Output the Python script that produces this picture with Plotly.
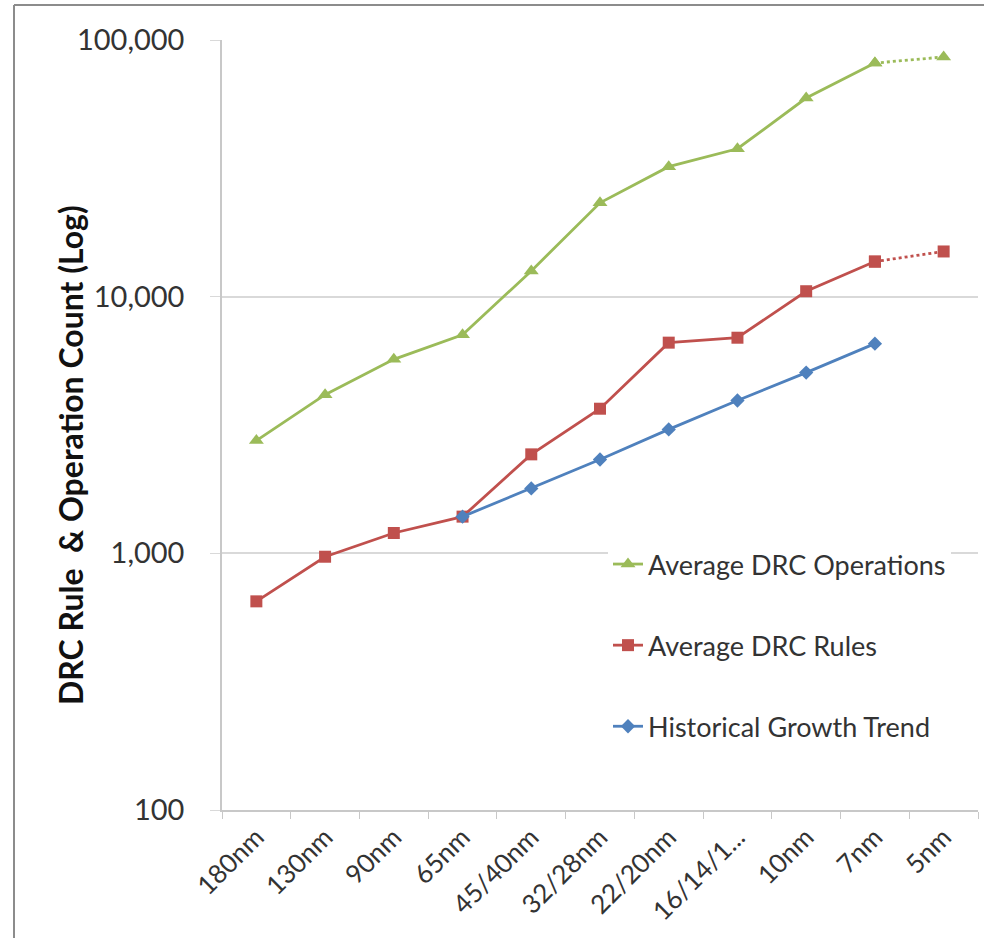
import plotly.graph_objects as go

# Process nodes along the x axis
nodes = ["180nm", "130nm", "90nm", "65nm", "45/40nm", "32/28nm",
         "22/20nm", "16/14/1...", "10nm", "7nm", "5nm"]

# Average DRC operations per node (last value is a projection)
drc_operations = [2750, 4150, 5700, 7100, 12600, 23200, 32100, 37700, 59400, 81300, 85900]

# Average DRC rules per node (last value is a projection)
drc_rules = [650, 970, 1200, 1390, 2430, 3660, 6620, 6920, 10500, 13700, 15000]

# Historical growth trend, starting at 65nm
trend_nodes = ["65nm", "45/40nm", "32/28nm", "22/20nm", "16/14/1...", "10nm", "7nm"]
trend_values = [1390, 1790, 2320, 3040, 3940, 5060, 6560]

y_tick_values = [100, 1000, 10000, 100000]
y_tick_labels = ["100", "1,000", "10,000", "100,000"]

GREEN = "#9BBB59"
RED = "#C0504D"
BLUE = "#4F81BD"
FONT = "Lato"
TEXT = "#333333"

# plot area geometry in pixels (for placing the frame and the axis title)
W, H = 984, 938
L, R, T, B = 222, 6, 40, 128
PW, PH = W - L - R, H - T - B


def px_x(x):
    return (x - L) / PW


def px_y(y):
    return (H - B - y) / PH


fig = go.Figure()

# solid parts of the measured series; the final node is drawn dotted
fig.add_trace(go.Scatter(
    x=nodes[:-1], y=drc_operations[:-1], mode="lines+markers",
    name="Average DRC Operations", legendgroup="ops",
    line=dict(color=GREEN, width=2.8),
    marker=dict(symbol="triangle-up", size=13, color=GREEN),
))
fig.add_trace(go.Scatter(
    x=nodes[-2:], y=drc_operations[-2:], mode="lines+markers",
    showlegend=False, legendgroup="ops",
    line=dict(color=GREEN, width=2.8, dash="dot"),
    marker=dict(symbol="triangle-up", size=13, color=GREEN),
))
fig.add_trace(go.Scatter(
    x=nodes[:-1], y=drc_rules[:-1], mode="lines+markers",
    name="Average DRC Rules", legendgroup="rules",
    line=dict(color=RED, width=2.8),
    marker=dict(symbol="square", size=12, color=RED),
))
fig.add_trace(go.Scatter(
    x=nodes[-2:], y=drc_rules[-2:], mode="lines+markers",
    showlegend=False, legendgroup="rules",
    line=dict(color=RED, width=2.8, dash="dot"),
    marker=dict(symbol="square", size=12, color=RED),
))
fig.add_trace(go.Scatter(
    x=trend_nodes, y=trend_values, mode="lines+markers",
    name="Historical Growth Trend", legendgroup="trend",
    line=dict(color=BLUE, width=2.8),
    marker=dict(symbol="diamond", size=11, color=BLUE),
))

# thin frame along the top and left edges of the figure
frame = dict(color="#8c8c8c", width=2)
fig.add_shape(type="line", xref="paper", yref="paper",
              x0=px_x(14), x1=px_x(W + 2), y0=px_y(5), y1=px_y(5), line=frame)
fig.add_shape(type="line", xref="paper", yref="paper",
              x0=px_x(14), x1=px_x(14), y0=px_y(5), y1=px_y(H + 2), line=frame)

fig.add_annotation(
    text="<b>DRC Rule  &amp; Operation Count (Log)</b>",
    xref="paper", yref="paper", x=px_x(70), y=px_y(455),
    xanchor="center", yanchor="middle",
    textangle=-90, showarrow=False,
    font=dict(family=FONT, size=32, color="#111111"),
)

fig.update_layout(
    width=W, height=H,
    margin=dict(l=L, r=R, t=T, b=B),
    paper_bgcolor="white", plot_bgcolor="white",
    font=dict(family=FONT, color=TEXT),
    showlegend=True,
    legend=dict(
        x=px_x(608), y=px_y(540), xanchor="left", yanchor="top",
        bgcolor="white", borderwidth=0,
        font=dict(family=FONT, size=27, color=TEXT),
        traceorder="grouped", tracegroupgap=43,
    ),
)

fig.update_xaxes(
    type="category", categoryorder="array", categoryarray=nodes,
    range=[-0.5, len(nodes) - 0.5],
    showgrid=False, showline=True, linecolor="#c8c8c8", linewidth=1.5,
    ticks="outside", tickson="boundaries", ticklen=7, tickcolor="#c8c8c8",
    tickangle=-45, tickfont=dict(family=FONT, size=26, color=TEXT),
)
fig.update_yaxes(
    type="log", range=[2, 5],
    tickvals=y_tick_values, ticktext=y_tick_labels,
    showgrid=True, gridcolor="#d9d9d9", gridwidth=1.5,
    showline=True, linecolor="#c8c8c8", linewidth=1.5,
    ticks="outside", ticklen=10, tickcolor="#d9d9d9",
    ticklabelstandoff=20,
    tickfont=dict(family=FONT, size=29, color=TEXT),
    zeroline=False,
)

fig.write_html("out.html")
